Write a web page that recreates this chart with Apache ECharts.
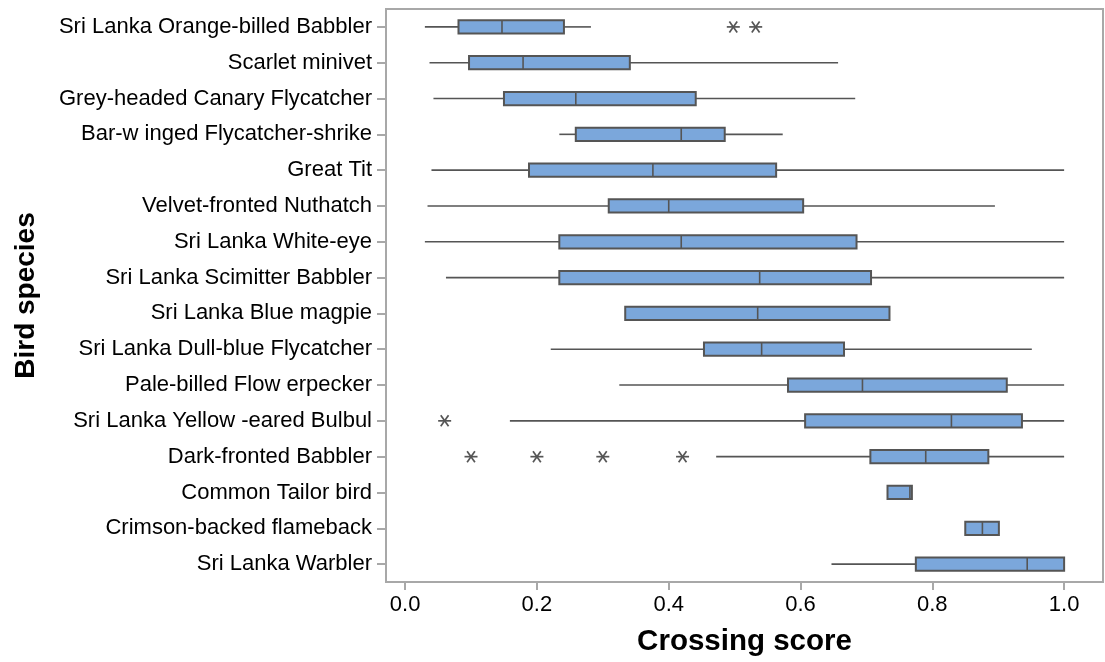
<!DOCTYPE html>
<html>
<head>
<meta charset="utf-8">
<script src="https://cdn.jsdelivr.net/npm/echarts@6/dist/echarts.min.js"></script>
<style>
html,body{margin:0;padding:0;background:#fff;}
#c{width:1105px;height:662px;}
</style>
</head>
<body>
<div id="c"></div>
<script>
const species = [
  "Sri Lanka Orange-billed Babbler",
  "Scarlet minivet",
  "Grey-headed Canary Flycatcher",
  "Bar-w inged Flycatcher-shrike",
  "Great Tit",
  "Velvet-fronted Nuthatch",
  "Sri Lanka White-eye",
  "Sri Lanka Scimitter Babbler",
  "Sri Lanka Blue magpie",
  "Sri Lanka Dull-blue Flycatcher",
  "Pale-billed Flow erpecker",
  "Sri Lanka Yellow -eared Bulbul",
  "Dark-fronted Babbler",
  "Common Tailor bird",
  "Crimson-backed flameback",
  "Sri Lanka Warbler"
];
const whiskerLow  = [0.030,0.037,0.043,0.234,0.040,0.034,0.030,0.062,0.334,0.221,0.325,0.159,0.472,0.732,0.850,0.647];
const q1          = [0.081,0.097,0.150,0.259,0.188,0.309,0.234,0.234,0.334,0.4535,0.581,0.607,0.706,0.732,0.850,0.775];
const median      = [0.147,0.179,0.259,0.419,0.376,0.400,0.419,0.538,0.535,0.541,0.694,0.829,0.790,0.766,0.876,0.944];
const q3          = [0.241,0.341,0.441,0.485,0.563,0.604,0.685,0.707,0.735,0.666,0.913,0.936,0.885,0.769,0.901,1.000];
const whiskerHigh = [0.282,0.657,0.683,0.573,1.000,0.895,1.000,1.000,0.735,0.951,1.000,1.000,1.000,0.769,0.901,1.000];
const outlierSpecies = [0,0,11,12,12,12,12];
const outlierValues  = [0.498,0.532,0.060,0.100,0.200,0.300,0.421];
const xTicks = [0,0.2,0.4,0.6,0.8,1.0];

const boxData = species.map((s,i)=>[i, whiskerLow[i], q1[i], median[i], q3[i], whiskerHigh[i]]);
const outData = outlierSpecies.map((s,i)=>[s, outlierValues[i]]);

const LINE = '#555555';
const FILL = '#7BA7DB';
const AXIS = '#a8a8a8';

const chart = echarts.init(document.getElementById('c'), null, {renderer:'canvas'});
chart.setOption({
  animation:false,
  backgroundColor:'#fff',
  grid:{left:386, top:9, right:2, bottom:79, show:true, borderColor:AXIS, borderWidth:2, backgroundColor:'transparent'},
  xAxis:{
    type:'value', min:-0.029, max:1.059,
    name:'Crossing score', nameLocation:'middle', nameGap:45,
    nameTextStyle:{fontFamily:'Liberation Sans', fontWeight:'bold', fontSize:29.5, color:'#000'},
    axisLine:{show:true, onZero:false, lineStyle:{color:AXIS, width:2}},
    axisTick:{show:true, length:8, customValues:xTicks, lineStyle:{color:AXIS, width:2}},
    axisLabel:{customValues:xTicks, margin:12, fontFamily:'Liberation Sans', fontSize:22, color:'#000',
      formatter:v=>Number(v).toFixed(1)},
    splitLine:{show:false}
  },
  yAxis:{
    type:'category', data:species, inverse:true,
    name:'Bird species', nameLocation:'middle', nameGap:346,
    nameTextStyle:{fontFamily:'Liberation Sans', fontWeight:'bold', fontSize:28, color:'#000'},
    axisLine:{show:true, onZero:false, lineStyle:{color:AXIS, width:2}},
    axisTick:{show:true, alignWithLabel:true, length:9, lineStyle:{color:AXIS, width:2}},
    axisLabel:{margin:14, fontFamily:'Liberation Sans', fontSize:22, color:'#000'},
    splitLine:{show:false}
  },
  series:[
    {
      type:'custom',
      data:boxData,
      encode:{y:0, x:[1,2,3,4,5]},
      renderItem:function(params, api){
        const idx = api.value(0);
        const band = api.size([0,1])[1];
        const h = band*0.37;
        const pLo = api.coord([api.value(1), idx]);
        const pQ1 = api.coord([api.value(2), idx]);
        const pMd = api.coord([api.value(3), idx]);
        const pQ3 = api.coord([api.value(4), idx]);
        const pHi = api.coord([api.value(5), idx]);
        const y = pMd[1];
        const ls = {stroke:LINE, lineWidth:1.6};
        return {
          type:'group',
          children:[
            {type:'line', shape:{x1:pLo[0], y1:y, x2:pQ1[0], y2:y}, style:ls},
            {type:'line', shape:{x1:pQ3[0], y1:y, x2:pHi[0], y2:y}, style:ls},
            {type:'rect', shape:{x:pQ1[0], y:y-h/2, width:pQ3[0]-pQ1[0], height:h},
              style:{fill:FILL, stroke:LINE, lineWidth:2}},
            {type:'line', shape:{x1:pMd[0], y1:y-h/2, x2:pMd[0], y2:y+h/2}, style:{stroke:LINE, lineWidth:1.6}}
          ]
        };
      }
    },
    {
      type:'custom',
      data:outData,
      encode:{y:0, x:1},
      renderItem:function(params, api){
        const p = api.coord([api.value(1), api.value(0)]);
        const s = {stroke:LINE, lineWidth:1.7};
        const rx = 6.5, ry = 5.5;
        return {
          type:'group',
          children:[
            {type:'line', shape:{x1:p[0]-rx, y1:p[1], x2:p[0]+rx, y2:p[1]}, style:s},
            {type:'line', shape:{x1:p[0]-rx*0.6, y1:p[1]-ry, x2:p[0]+rx*0.6, y2:p[1]+ry}, style:s},
            {type:'line', shape:{x1:p[0]+rx*0.6, y1:p[1]-ry, x2:p[0]-rx*0.6, y2:p[1]+ry}, style:s}
          ]
        };
      }
    }
  ]
});
</script>
</body>
</html>
